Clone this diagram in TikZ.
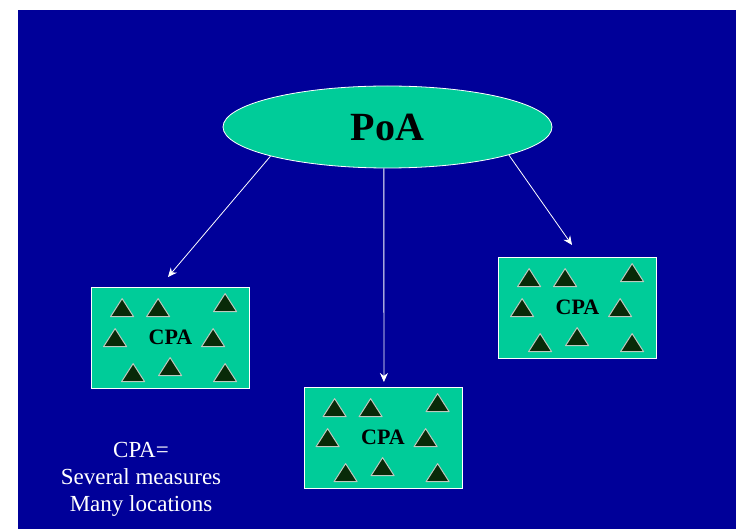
\documentclass[tikz,border=0pt]{standalone}
\usepackage{fontspec}
\setmainfont{Liberation Serif}
\usetikzlibrary{shapes.geometric,arrows.meta}
\definecolor{bgblue}{RGB}{0,0,153}
\definecolor{poagreen}{RGB}{0,204,153}
\definecolor{sitegreen}{RGB}{8,42,8}
\definecolor{sitegray}{RGB}{190,200,190}

\begin{document}
\begin{tikzpicture}[x=1pt,y=-1pt,
  blob/.style={ellipse,draw=white,line width=0.8pt,fill=poagreen,minimum width=329pt,minimum height=82pt,inner sep=0pt},
  field/.style={rectangle,draw=white,line width=0.8pt,fill=poagreen,minimum width=158pt,minimum height=101pt,inner sep=0pt,font=\bfseries\fontsize{22}{22}\selectfont},
  arr/.style={draw=white,line width=0.8pt,-{Stealth[length=9pt,width=8pt]}},
  site/.style={fill=sitegreen,draw=sitegray,line width=1pt,line join=round}]
%bakgrunn
\fill[white] (0,0) rectangle (736,529);
\fill[bgblue] (18,10) rectangle (736,529);
%PoA
\node[blob] (poa) at (387.5,127) {\bfseries\fontsize{40}{40}\selectfont PoA};
%CPA felt
\node[field] (cpa1) at (170.5,337.5) {CPA};
\node[field] (cpa2) at (383,437.5) {CPA};
\node[field] (cpa3) at (577.5,307.5) {CPA};
\foreach \b in {cpa1,cpa2,cpa3}
  \foreach \x/\y in {31/12,67/12,134/7,24/42,122/42,42/77,79/71,134/77}
    \draw[site,shift={(\b.north west)}] (\x,\y) -- ++(11.5,18) -- ++(-23,0) -- cycle;
%piler
\coordinate (tip1) at (168,277);
\coordinate (tip2) at (383.9,382);
\coordinate (tip3) at (572,245);
\draw[arr] (poa.194) -- (tip1);
\draw[arr] (poa.265) -- (tip2);
\draw[arr] (poa.347) -- (tip3);
%forklaring
\node[text=white,align=center,font=\fontsize{23}{27}\selectfont] (note) at (141,479) {CPA=\\Several measures\\Many locations};
\end{tikzpicture}
\end{document}
